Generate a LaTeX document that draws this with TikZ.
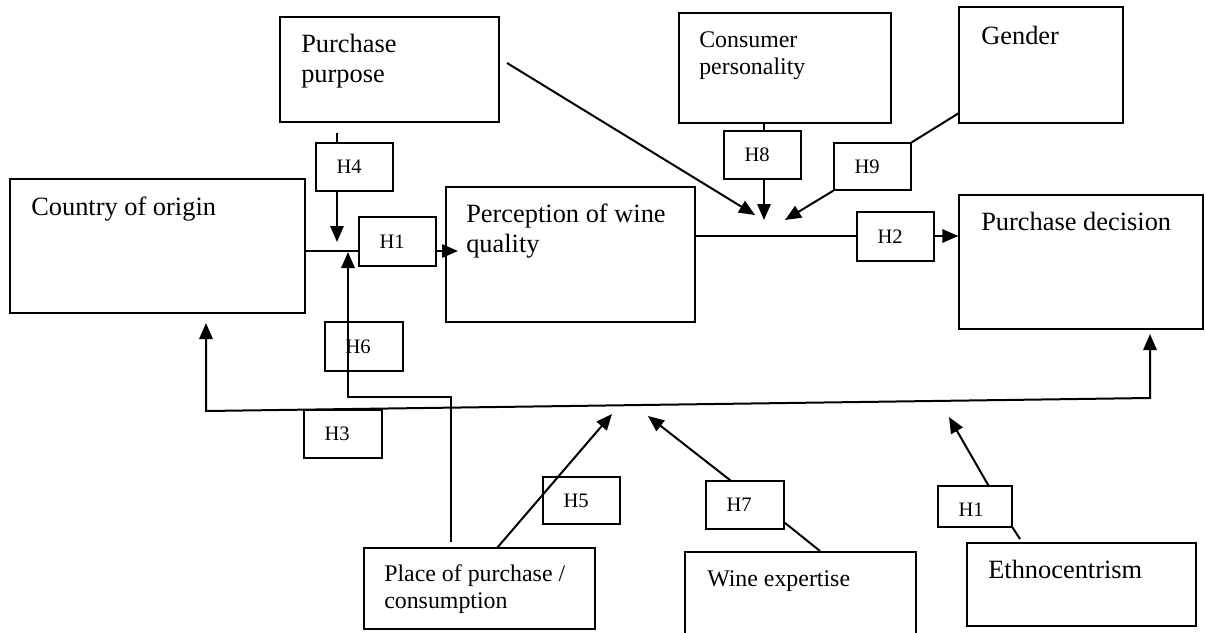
\documentclass[tikz,border=0pt]{standalone}
\usepackage{fontspec}
\setmainfont{Liberation Serif}
\usetikzlibrary{arrows.meta,fit,calc}
\begin{document}
\begin{tikzpicture}[x=0.75pt,y=-0.75pt,
  box/.style={draw, line width=1pt, inner sep=0pt, rectangle},
  big/.style={font=\fontsize{19.8pt}{22.3pt}\selectfont, inner sep=0pt, align=left, anchor=base west},
  small/.style={font=\fontsize{17.9pt}{20.2pt}\selectfont, inner sep=0pt, align=left, anchor=base west},
  hlab/.style={font=\fontsize{15.4pt}{18pt}\selectfont, inner sep=0pt, anchor=west, xshift=15.75pt},
  con/.style={line width=1.5pt},
  tip/.tip={Triangle[length=12pt,width=10pt]},
  arr/.style={con, -tip},
]
\useasboundingbox (0,0) rectangle (1205,632);
\clip (0,0) rectangle (1205,632);

% main boxes (multi-line text nodes are placed at the baseline of their last line)
\node[box, fit={(280,17)(499,122)}] (pp) {};
\node[big] (ppt) at (301,82) {Purchase\\purpose};
\node[box, fit={(10,179)(305,313)}] (coo) {};
\node[big] (coot) at (31,215) {Country of origin};
\node[box, fit={(679,13)(891,123)}] (cp) {};
\node[small] (cpt) at (699,74) {Consumer\\personality};
\node[box, fit={(959,7)(1123,123)}] (gen) {};
\node[big] (gent) at (981,44) {Gender};
\node[box, fit={(446,187)(695,322)}] (pwq) {};
\node[big] (pwqt) at (466,252) {Perception of wine\\quality};
\node[box, fit={(959,195)(1203,329)}] (pd) {};
\node[big] (pdt) at (981,230) {Purchase decision};
\node[box, fit={(364,548)(595,629)}] (pop) {};
\node[small] (popt) at (384,608) {Place of purchase /\\consumption};
\node[box, fit={(685,552)(916,645)}] (we) {};
\node[small] (wet) at (707,586) {Wine expertise};
\node[box, fit={(967,543)(1196,626)}] (eth) {};
\node[big] (etht) at (988,578) {Ethnocentrism};

% hypothesis boxes
\node[box, fit={(316,143)(393,191)}, label={[hlab]west:H4}] (h4) {};
\node[box, fit={(359,217)(436,266)}, label={[hlab]west:H1}] (h1) {};
\node[box, fit={(724,131)(801,179)}, label={[hlab]west:H8}] (h8) {};
\node[box, fit={(834,143)(911,190)}, label={[hlab]west:H9}] (h9) {};
\node[box, fit={(857,212)(934,261)}, label={[hlab]west:H2}] (h2) {};
\node[box, fit={(325,322)(403,371)}, label={[hlab]west:H6}] (h6) {};
\node[box, fit={(304,410)(382,458)}, label={[hlab]west:H3}] (h3) {};
\node[box, fit={(543,477)(620,524)}, label={[hlab]west:H5}] (h5) {};
\node[box, fit={(706,481)(784,529)}, label={[hlab]west:H7}] (h7) {};
\node[box, fit={(938,486)(1012,527)}, label={[hlab,yshift=-2.5pt]west:H1}] (h1b) {};

% coordinates
\coordinate (a4) at (337,133);
\coordinate (t4) at (337,242);
\coordinate (j1) at (305,251);
\coordinate (t1) at (458,251);
\coordinate (s6) at (451,542);
\coordinate (t6) at (348,252);
\coordinate (t3a) at (206,323);
\coordinate (k3a) at (206,411);
\coordinate (k3b) at (1150,398);
\coordinate (t3b) at (1150,334);
\coordinate (s5) at (497,548);
\coordinate (t5) at (612,414);
\coordinate (s7) at (820,551);
\coordinate (t7) at (648,416);
\coordinate (s1b) at (1020,539);
\coordinate (t1b) at (949,417);
\coordinate (spp) at (507,63);
\coordinate (tpp) at (755,215);
\coordinate (a8) at (764,123);
\coordinate (t8) at (764,220);
\coordinate (sg) at (959,113);
\coordinate (t9) at (785,220);
\coordinate (j2) at (695,236);

% connectors
\draw[con] (a4) -- (a4 |- h4.north);
\draw[arr] (a4 |- h4.south) -- (t4);
\draw[con] (j1) -- (j1 -| h1.west);
\draw[arr] (j1 -| h1.east) -- (t1);
\draw[arr] (s6) -- ++(0,-145) -| (t6);
\draw[con, tip-tip] (t3a) -- (k3a) -- (k3b) -- (t3b);
\draw[arr] (s5) -- (t5);
\draw[con] (s7) -- ($(h7.south east)+(0,-7)$);
\draw[arr] ($(h7.north west)+(25,0)$) -- (t7);
\draw[con] (s1b) -- (h1b.south east);
\draw[arr] ($(h1b.north west)+(51,0)$) -- (t1b);
\draw[arr] (spp) -- (tpp);
\draw[con] (a8) -- (a8 |- h8.north);
\draw[arr] (a8 |- h8.south) -- (t8);
\draw[con] (sg) -- (h9.north east);
\draw[arr] (h9.south west) -- (t9);
\draw[con] (j2) -- (j2 -| h2.west);
\draw[arr] (j2 -| h2.east) -- (j2 -| pd.west);
\end{tikzpicture}
\end{document}
